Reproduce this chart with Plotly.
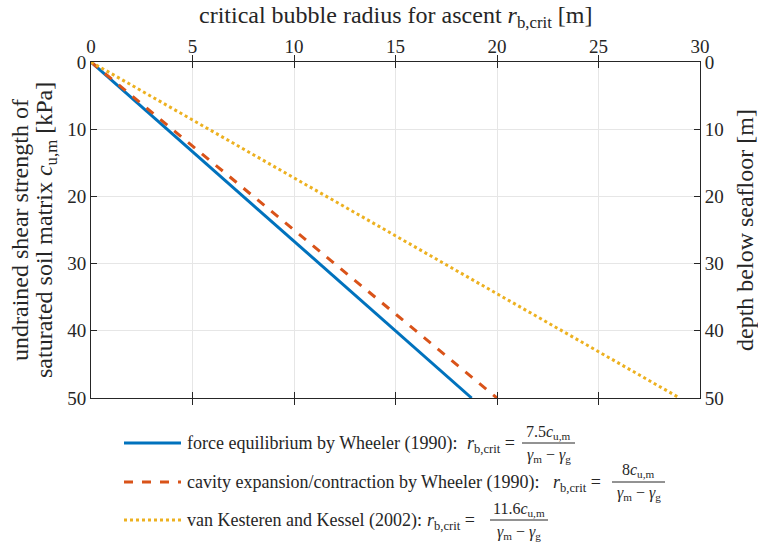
import plotly.graph_objects as go

# ---- data ----
shear_strength = [0, 50]          # c_u,m [kPa]
r_force = [0, 18.75]              # force equilibrium (Wheeler 1990)
r_cavity = [0, 20.0]              # cavity expansion/contraction (Wheeler 1990)
r_kesteren = [0, 29.0]            # van Kesteren and Kessel (2002)
depth = [0, 50]                   # depth below seafloor [m]

x_ticks = [0, 5, 10, 15, 20, 25, 30]
y_ticks = [0, 10, 20, 30, 40, 50]

series_names = [
    "force equilibrium by Wheeler (1990):",
    "cavity expansion/contraction by Wheeler (1990):",
    "van Kesteren and Kessel (2002):",
]
lhs = "<i>r</i><sub>b,crit</sub> ="
numerators = ["7.5<i>c</i><sub>u,m</sub>", "8<i>c</i><sub>u,m</sub>", "11.6<i>c</i><sub>u,m</sub>"]
denominator = "<i>γ</i><sub>m</sub> − <i>γ</i><sub>g</sub>"
colors = ["#0072BD", "#D95319", "#EDB120"]
dashes = ["solid", "dash", "dot"]

W, H = 758, 542
L, R, T, B = 91, 700, 62, 398
FONT = "Liberation Serif"
TXT = "#262626"

fig = go.Figure()
for xs, c, d in zip([r_force, r_cavity, r_kesteren], colors, dashes):
    fig.add_trace(go.Scatter(x=xs, y=shear_strength, mode="lines",
                             line=dict(color=c, width=3, dash=d),
                             showlegend=False, hoverinfo="skip"))
# invisible trace for the right (depth) axis
fig.add_trace(go.Scatter(x=[0, 0], y=depth, yaxis="y2", mode="lines",
                         line=dict(width=0, color="rgba(0,0,0,0)"),
                         showlegend=False, hoverinfo="skip"))

axis_common = dict(showline=True, linecolor=TXT, linewidth=1, ticks="inside",
                   ticklen=6, tickcolor=TXT, zeroline=False,
                   tickfont=dict(family=FONT, size=19, color=TXT))

fig.update_layout(
    width=W, height=H,
    margin=dict(l=L, r=W - R, t=T, b=H - B),
    paper_bgcolor="white", plot_bgcolor="white",
    font=dict(family=FONT, color=TXT),
    xaxis=dict(range=[0, 30], side="top", tickvals=x_ticks, mirror="allticks",
               showgrid=True, gridcolor="#e6e6e6", **axis_common),
    yaxis=dict(range=[50, 0], tickvals=y_ticks, showgrid=True, gridcolor="#e6e6e6",
               **axis_common),
    yaxis2=dict(range=[50, 0], tickvals=y_ticks, overlaying="y", side="right",
                showgrid=False, **axis_common),
)

def px(x):
    return (x - L) / (R - L)

def py(y):
    return (B - y) / (B - T)

TITLE = 24
# axis titles
fig.add_annotation(xref="paper", yref="paper", x=px((L + R) / 2), y=py(17),
                   xanchor="center", yanchor="middle", showarrow=False,
                   text="critical bubble radius for ascent <i>r</i><sub>b,crit</sub> [m]",
                   font=dict(family=FONT, size=TITLE, color=TXT))
fig.add_annotation(xref="paper", yref="paper", x=px(20), y=py((T + B) / 2),
                   xanchor="center", yanchor="middle", showarrow=False, textangle=-90,
                   text="undrained shear strength of",
                   font=dict(family=FONT, size=TITLE, color=TXT))
fig.add_annotation(xref="paper", yref="paper", x=px(46), y=py((T + B) / 2),
                   xanchor="center", yanchor="middle", showarrow=False, textangle=-90,
                   text="saturated soil matrix <i>c</i><sub>u,m</sub> [kPa]",
                   font=dict(family=FONT, size=TITLE, color=TXT))
fig.add_annotation(xref="paper", yref="paper", x=px(745), y=py((T + B) / 2),
                   xanchor="center", yanchor="middle", showarrow=False, textangle=-90,
                   text="depth below seafloor [m]",
                   font=dict(family=FONT, size=TITLE, color=TXT))

# legend
legend_y = [443, 482, 520]
eq_end = [517, 603, 477]
frac_x = [(522, 575), (612, 665), (490, 548)]
LEG = 18
FRAC = 16
for i in range(3):
    yy = legend_y[i]
    fig.add_shape(type="line", xref="paper", yref="paper",
                  x0=px(124), x1=px(181), y0=py(yy), y1=py(yy),
                  line=dict(color=colors[i], width=3, dash=dashes[i]))
    fig.add_annotation(xref="paper", yref="paper", x=px(185), y=py(yy),
                       xanchor="left", yanchor="middle", showarrow=False,
                       text=series_names[i], font=dict(family=FONT, size=LEG, color=TXT))
    fig.add_annotation(xref="paper", yref="paper", x=px(eq_end[i]), y=py(yy + 1),
                       xanchor="right", yanchor="middle", showarrow=False,
                       text=lhs, font=dict(family=FONT, size=LEG, color=TXT))
    x0, x1 = frac_x[i]
    fig.add_shape(type="line", xref="paper", yref="paper",
                  x0=px(x0), x1=px(x1), y0=py(yy), y1=py(yy),
                  line=dict(color=TXT, width=1))
    fig.add_annotation(xref="paper", yref="paper", x=px((x0 + x1) / 2), y=py(yy - 11),
                       xanchor="center", yanchor="middle", showarrow=False,
                       text=numerators[i], font=dict(family=FONT, size=FRAC, color=TXT))
    fig.add_annotation(xref="paper", yref="paper", x=px((x0 + x1) / 2), y=py(yy + 12),
                       xanchor="center", yanchor="middle", showarrow=False,
                       text=denominator, font=dict(family=FONT, size=FRAC, color=TXT))

fig.write_html("out.html")
